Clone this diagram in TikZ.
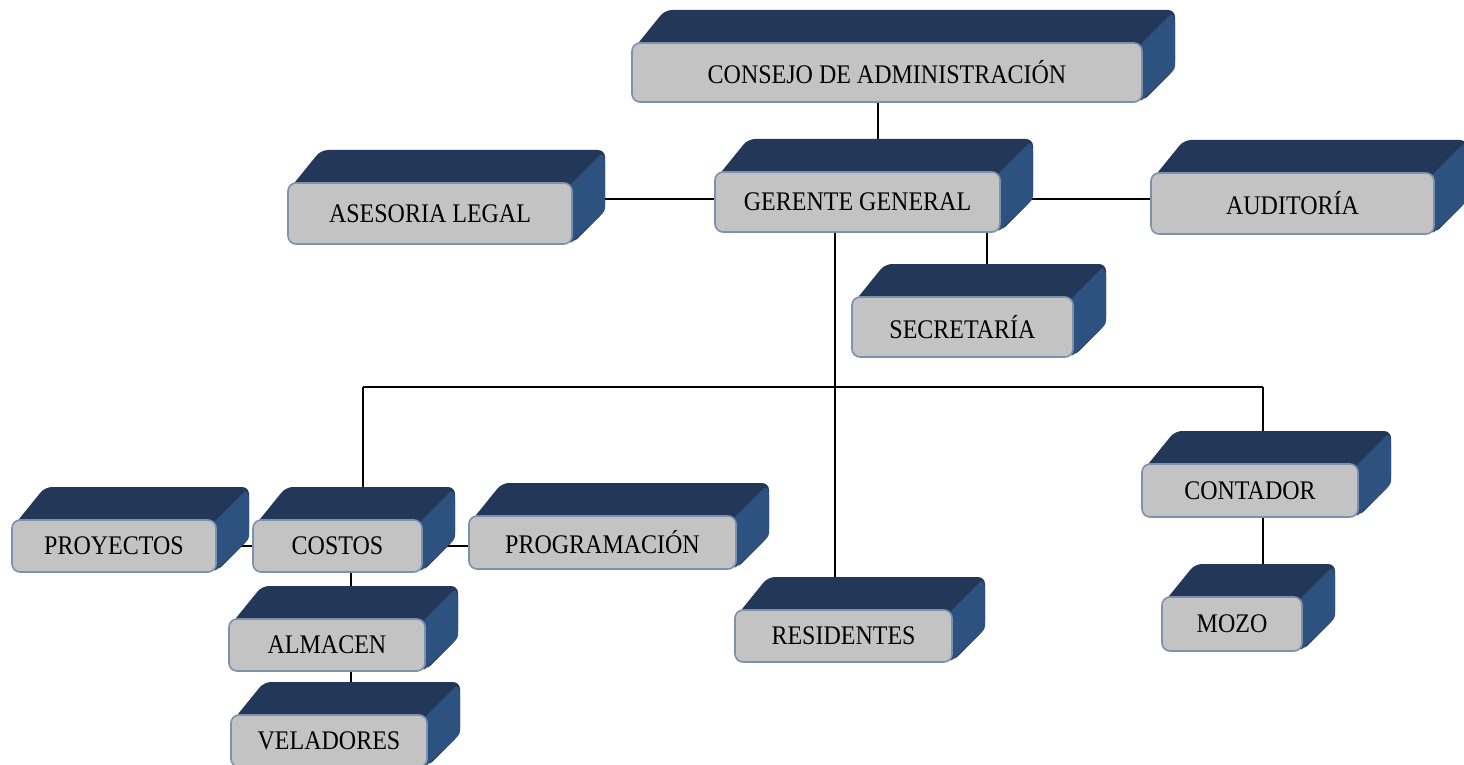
\documentclass[tikz,border=0pt]{standalone}
\usepackage{fontspec}
\usepackage{graphicx}
\setmainfont{Liberation Serif}
\usetikzlibrary{backgrounds}
\definecolor{topnavy}{RGB}{35,56,88}
\definecolor{sideblue}{RGB}{46,82,128}
\definecolor{facegray}{RGB}{195,195,195}
\definecolor{edgeblue}{RGB}{125,145,175}
\tikzset{
  topface/.style={fill=topnavy, rounded corners=7pt},
  sideface/.style={fill=sideblue, rounded corners=3pt},
  frontbox/.style={draw=edgeblue, line width=1.6pt, fill=facegray, rounded corners=8pt,
    inner sep=0pt, font=\fontsize{24}{28}\selectfont, text=black},
  link/.style={draw=black, line width=1.6pt}
}
% \orgbox{name}{x1}{y1}{x2}{y2}{text}: front face corners in pixel units, with a 33 unit extrusion
\newcommand\orgbox[6]{%
  \fill[topface] (#2+3,#3+4) -- (#2+33,#3-33) -- (#4+33,#3-33) -- (#4+33,#5-33) -- (#4,#5) -- (#4,#3) -- cycle;
  \fill[sideface] (#4-2,#3+2) -- (#4+30,#3-30) -- (#4+33,#3-24) -- (#4+33,#5-33) -- (#4-2,#5) -- cycle;
  \node[frontbox, minimum width={(#4-#2)*1pt}, minimum height={(#5-#3)*1pt}] (#1) at ({(#2+#4)/2},{(#3+#5)/2}) {\scalebox{1}[1.12]{#6}};
}
\begin{document}
\begin{tikzpicture}[x=1pt, y=-1pt]
\useasboundingbox (0,0) rectangle (1464,765);

\orgbox{cons}{632}{43}{1142}{102}{CONSEJO DE ADMINISTRACIÓN}
\orgbox{ger}{715}{172}{1000}{232}{GERENTE GENERAL}
\orgbox{ases}{288}{183}{572}{244}{ASESORIA LEGAL}
\orgbox{aud}{1151}{173}{1434}{234}{AUDITORÍA}
\orgbox{sec}{852}{297}{1073}{357}{SECRETARÍA}
\orgbox{cont}{1142}{464}{1358}{517}{CONTADOR}
\orgbox{mozo}{1162}{597}{1302}{651}{MOZO}
\orgbox{proy}{12}{520}{216}{572}{PROYECTOS}
\orgbox{cos}{253}{520}{422}{572}{COSTOS}
\orgbox{prog}{469}{516}{736}{569}{PROGRAMACIÓN}
\orgbox{alm}{229}{619}{425}{671}{ALMACEN}
\orgbox{vel}{231}{715}{427}{767}{VELADORES}
\orgbox{res}{735}{610}{952}{662}{RESIDENTES}

% trunk positions of the vertical connectors
\coordinate (xcons) at (878,0);
\coordinate (xsec) at (987,0);
\coordinate (xmain) at (835,0);
\coordinate (busL) at (363,387);
\coordinate (busR) at (1263,387);
\coordinate (xcos) at (351,0);
\coordinate (ybranch) at (0,199);

\begin{pgfonlayer}{background}
  \draw[link] (cons.center -| xcons) -- (ger.center -| xcons);
  \draw[link] (ger.center |- ybranch) -- (ases.center |- ybranch);
  \draw[link] (ger.center |- ybranch) -- (aud.center |- ybranch);
  \draw[link] (ger.center -| xsec) -- (sec.center -| xsec);
  \draw[link] (ger.center -| xmain) -- (res.center -| xmain);
  \draw[link] (busL) -- (busR);
  \draw[link] (busL) -- (busL |- cos.center);
  \draw[link] (busR) -- (busR |- cont.center);
  \draw[link] (cont.center -| busR) -- (mozo.center -| busR);
  \draw[link] (proy.center) -- (cos.center);
  \draw[link] (cos.center) -- (cos.center -| prog.center);
  \draw[link] (cos.center -| xcos) -- (alm.center -| xcos);
  \draw[link] (alm.center -| xcos) -- (vel.center -| xcos);
\end{pgfonlayer}
\end{tikzpicture}
\end{document}
